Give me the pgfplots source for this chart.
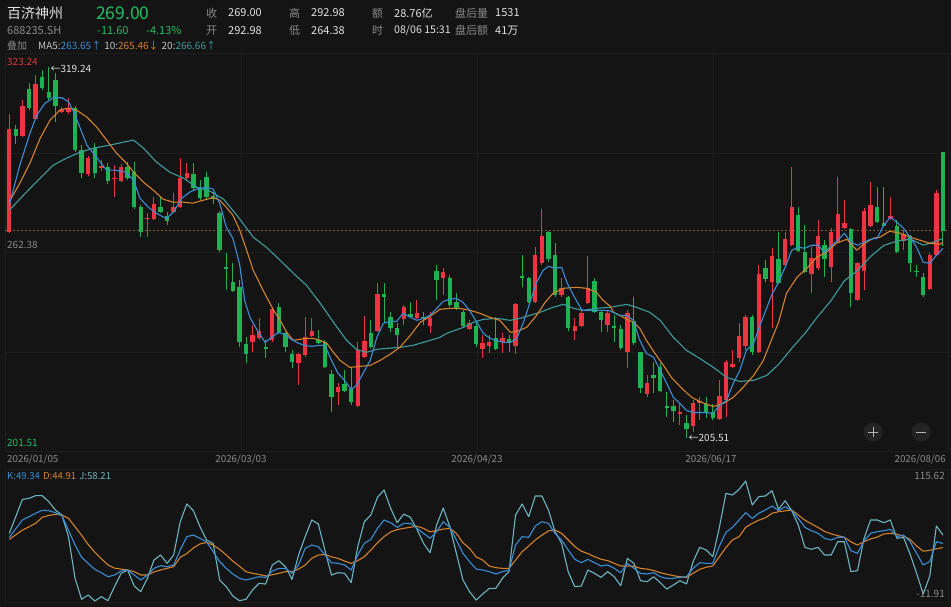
\documentclass[border=0pt]{standalone}
\usepackage{pgfplots}
\pgfplotsset{compat=1.18}
\usepackage{pgfplotstable}
\usepackage{fontspec}
\setmainfont{Noto Sans CJK SC}
\definecolor{bg}{HTML}{141414}
\definecolor{cgrid}{HTML}{1E1E1E}
\definecolor{cred}{HTML}{EE3440}
\definecolor{cgreen}{HTML}{1FB253}
\definecolor{cma5}{HTML}{3A8ED6}
\definecolor{cma10}{HTML}{D5822C}
\definecolor{cma20}{HTML}{3F9C9C}
\definecolor{cj}{HTML}{6DB5C2}
\definecolor{ctext}{HTML}{E2E2E2}
\definecolor{cgrey}{HTML}{8A8A8A}
\definecolor{clight}{HTML}{C4C4C4}
\definecolor{cgreentxt}{HTML}{22C063}
\definecolor{credtxt}{HTML}{D93840}
\definecolor{cdash}{HTML}{8C5A2C}
\definecolor{cbtn}{HTML}{232323}
\definecolor{cbtns}{HTML}{B4B4B4}
\newcommand{\fs}[1]{\fontsize{#1}{#1}\selectfont}

\pgfplotstableread{
x o h l c
0 268.58 304.78 268.27 300.12
2 297.98 309.00 297.67 307.16
4 303.18 316.66 302.87 313.90
8 305.32 306.85 305.02 306.24
9 305.32 309.61 304.71 306.55
12 286.33 291.85 285.72 291.24
14 288.18 290.62 287.25 288.79
16 284.81 289.10 279.29 285.11
17 284.19 289.40 283.89 288.48
21 272.56 274.39 267.05 272.87
22 272.56 279.29 272.25 277.15
25 274.70 280.52 274.39 276.23
26 276.23 291.24 275.93 285.11
27 285.11 289.71 284.50 286.64
37 234.89 240.10 231.83 237.04
38 236.12 242.24 235.50 238.26
40 235.50 245.60 234.89 244.99
44 228.46 231.52 221.78 231.22
45 230.91 242.54 230.30 236.42
46 236.73 242.24 236.42 238.26
50 219.58 222.33 215.60 221.11
53 215.29 234.89 214.98 232.44
54 230.30 242.85 230.00 235.20
56 238.26 252.96 237.95 249.59
60 241.93 246.22 240.10 245.60
62 242.24 247.75 241.93 243.77
64 239.79 244.08 237.64 242.24
66 254.49 257.55 249.29 256.33
70 238.87 241.63 238.56 240.71
72 232.75 237.04 230.00 234.58
73 233.66 237.04 231.52 234.89
75 234.89 237.64 231.52 236.12
77 233.66 246.83 231.22 246.52
80 247.14 263.98 246.83 261.53
81 259.08 275.62 258.47 267.35
84 249.29 254.49 248.67 251.43
86 238.26 242.24 235.50 239.79
87 239.79 244.69 239.49 243.77
88 246.83 261.23 246.52 251.43
91 240.10 244.69 237.95 243.77
94 231.83 244.69 226.93 243.77
97 218.96 224.78 218.05 222.33
102 212.84 215.98 209.47 213.45
104 209.17 217.13 207.33 216.21
105 216.21 218.05 211.00 216.82
108 211.31 223.25 211.00 218.35
109 217.13 229.38 211.92 228.76
110 227.23 232.44 226.93 228.16
111 230.00 240.71 228.76 236.73
112 233.66 243.16 232.44 242.54
114 231.83 258.47 231.52 255.71
116 253.26 263.68 239.18 261.23
118 258.47 268.58 258.16 266.43
119 264.60 288.48 264.29 276.23
122 255.71 263.98 249.90 260.62
123 257.55 272.25 256.94 267.35
125 257.86 269.80 253.26 268.58
126 265.51 285.42 265.21 274.09
127 269.80 278.37 269.50 271.33
129 247.75 259.39 247.44 259.08
130 256.63 275.93 250.81 275.01
131 270.41 283.89 270.11 276.84
134 272.87 279.29 272.25 273.48
136 265.82 269.19 263.06 267.96
140 251.12 262.14 250.81 261.53
141 261.53 281.50 261.20 280.60
}\upc

\pgfplotstableread{
x o h l c
1 300.12 301.35 295.61 297.98
3 312.37 314.20 305.94 306.55
5 316.04 318.19 312.06 312.67
6 311.45 319.24 309.00 309.61
7 315.12 317.27 302.26 307.16
10 306.55 307.16 293.07 293.69
11 293.69 295.22 285.11 286.64
13 294.30 295.91 285.11 286.64
15 288.48 289.71 283.27 284.19
18 288.48 290.01 284.50 285.11
19 286.95 290.01 275.62 276.23
20 276.23 276.84 267.05 268.58
23 276.23 279.29 274.39 274.70
24 273.48 274.70 270.72 271.94
28 286.33 289.71 281.44 282.05
29 282.05 284.50 278.37 278.99
30 285.42 286.95 278.68 279.29
31 279.60 280.83 277.15 278.68
32 274.39 275.01 262.45 263.06
33 257.86 262.14 250.81 257.25
34 253.26 259.08 250.20 250.51
35 251.73 253.88 233.36 234.89
36 234.28 236.42 228.46 231.22
39 233.36 235.50 230.00 232.75
41 245.60 246.83 237.34 237.95
42 237.64 237.95 231.83 233.36
43 231.22 232.44 226.93 228.76
47 235.50 238.56 234.28 234.58
48 234.89 235.50 226.93 227.23
49 225.09 226.31 213.45 218.05
51 222.03 226.31 219.58 219.88
52 220.50 226.93 215.60 216.52
55 237.64 241.63 233.05 233.36
57 249.59 252.96 240.71 248.67
58 242.54 244.08 237.95 239.18
59 239.18 240.71 233.36 237.04
61 243.46 247.14 242.24 242.54
63 242.54 244.08 240.10 241.93
65 256.63 258.47 247.75 253.88
67 254.49 255.41 245.60 246.22
68 247.14 249.90 244.69 245.30
69 244.08 244.69 239.49 239.79
71 239.79 241.32 233.36 234.28
74 236.12 242.54 232.44 232.75
76 235.81 237.04 231.83 234.58
78 255.10 261.53 251.73 254.49
79 254.49 254.80 246.83 247.14
82 268.58 268.88 259.39 260.31
83 261.53 265.22 248.67 249.29
85 248.67 248.98 238.26 239.18
89 253.57 254.49 243.77 244.08
90 244.08 244.69 237.95 241.63
92 239.79 243.16 234.89 239.18
93 238.87 240.10 232.44 233.05
95 241.32 248.67 233.97 234.58
96 231.83 231.83 219.27 220.80
98 224.78 228.76 219.27 223.86
99 227.23 228.46 219.58 219.88
100 215.29 219.58 211.92 214.68
101 215.29 217.13 210.39 213.76
103 210.08 212.53 205.51 208.25
106 215.90 218.05 211.62 213.45
107 213.45 215.98 211.00 211.62
113 242.54 243.16 230.91 231.83
115 257.55 260.00 253.26 254.18
117 260.31 268.58 252.65 252.96
120 273.78 276.23 262.45 262.76
121 262.45 270.72 256.02 256.33
124 264.60 266.13 254.80 260.31
128 269.50 269.80 245.60 249.90
132 276.23 282.36 271.33 271.64
133 271.33 282.36 270.11 270.41
135 270.41 272.25 262.14 262.45
137 267.35 267.66 256.33 259.08
138 256.63 258.47 254.80 256.33
139 254.80 256.02 248.67 249.29
142 292.98 292.98 264.38 269.00
}\downc

\begin{document}
\begin{tikzpicture}[x=1pt,y=1pt]
\useasboundingbox (0,0) rectangle (951,-607);
\fill[bg] (0,0) rectangle (951,-607);

% ---------- main candlestick panel ----------
\begin{axis}[at={(5pt,-451.5pt)}, anchor=south west, scale only axis,
  width=943pt, height=398pt,
  xmin=-0.654, xmax=142.77, ymin=201.51, ymax=323.24,
  axis line style={draw=cgrid, line width=0.8pt},
  xtick={35.24,71.13,107.02}, ytick={231.83,262.38,292.77},
  xticklabels={}, yticklabels={}, major tick length=0pt,
  grid=major, grid style={draw=cgrid, line width=0.8pt},
  clip=true]
\addplot[cdash, line width=0.8pt, dash pattern=on 2pt off 2pt, forget plot] coordinates {(-0.654,269) (142.77,269)};
% wicks
\addplot[draw=none, mark=none, forget plot, error bars/.cd, y dir=plus, y explicit, error mark=none,
  error bar style={draw=cred, line width=0.9pt, solid}]
  table[x=x, y=l, y error plus expr=\thisrow{h}-\thisrow{l}] {\upc};
\addplot[draw=none, mark=none, forget plot, error bars/.cd, y dir=plus, y explicit, error mark=none,
  error bar style={draw=cgreen, line width=0.9pt, solid}]
  table[x=x, y=l, y error plus expr=\thisrow{h}-\thisrow{l}] {\downc};
% bodies
\addplot[draw=none, mark=none, forget plot, error bars/.cd, y dir=plus, y explicit, error mark=none,
  error bar style={draw=cred, line width=4.4pt, solid}]
  table[x=x, y=o, y error plus expr=\thisrow{c}-\thisrow{o}] {\upc};
\addplot[draw=none, mark=none, forget plot, error bars/.cd, y dir=plus, y explicit, error mark=none,
  error bar style={draw=cgreen, line width=4.4pt, solid}]
  table[x=x, y=c, y error plus expr=\thisrow{o}-\thisrow{c}] {\downc};
% MA20
\addplot[cma20, line width=1.1pt, line join=round, mark=none] coordinates {
(0,275.31)(2.6,280.83)(4.7,285.11)(6.7,289.10)(8.7,291.24)(10.8,293.07)(12.8,294.30)(15.3,295.22)(17.4,296.14)(18.9,296.75)
(20.4,294.30)(22.4,290.01)(24.4,286.95)(26.5,285.11)(28.5,282.36)(30.5,281.13)(32.6,278.68)(34.6,273.78)(37.1,267.05)(39.1,263.98)
(41.2,260.00)(43.2,256.02)(45.2,252.35)(47.3,246.83)(49.3,241.02)(51.3,235.50)(52.8,232.75)(54.3,231.83)(55.9,232.75)(57.4,233.05)
(59.4,233.36)(61.4,233.97)(63.5,235.20)(65.5,236.42)(66.5,237.64)(69.1,239.49)(70.6,241.02)(72.1,241.93)(74.1,242.24)(76.2,241.63)
(77.7,242.24)(79.2,243.16)(80.7,244.08)(82.7,245.61)(84.3,246.52)(85.8,245.30)(87.3,244.69)(89.3,245.30)(91.4,245.61)(93.9,246.52)
(95.4,245.61)(97.4,244.08)(99,241.63)(101,236.42)(103,232.44)(105,229.99)(107.1,227.23)(109.1,224.17)(111.1,222.95)(113.2,223.25)
(115.2,224.78)(117,228.15)(119,233.07)(121,237.60)(123,242.91)(125,247.71)(127,253.72)(129,256.82)(131,261.17)(133,264.55)
(135,265.85)(137,266.49)(139,264.64)(140.5,265.50)(142,266.66)};
% MA10
\addplot[cma10, line width=1.1pt, line join=round, mark=none] coordinates {
(0,277.85)(1.6,283.58)(3.2,290.01)(4.7,297.36)(6.2,302.87)(7.7,305.94)(9,306.55)(10.2,305.94)(11.8,303.79)(13.3,300.73)
(14.8,296.75)(16.3,292.77)(17.8,289.71)(18.9,286.95)(20.4,283.89)(21.9,281.44)(23.4,278.68)(24.9,277.76)(26.5,277.76)(27.9,277.46)
(29.5,278.37)(31,279.14)(32,278.37)(33,276.23)(34,273.78)(35,269.50)(36.1,263.06)(37.1,256.94)(38.6,250.81)(40.2,244.69)
(41.2,241.63)(42.2,237.95)(43.2,235.50)(44.2,235.81)(45.2,236.12)(46.2,236.12)(47.3,235.50)(48.3,234.58)(49.3,231.83)(50.3,229.38)
(51.8,227.23)(53.3,227.54)(54.9,227.85)(56.4,229.38)(57.9,231.22)(59.4,233.36)(61,237.04)(62.5,241.02)(64,242.85)(65.5,244.99)
(67,245.30)(68.5,245.30)(70.1,244.69)(71.6,243.77)(73.1,242.54)(74.6,241.63)(76.2,237.95)(77.2,238.26)(78.7,239.49)(80.2,243.16)
(81.5,247.14)(82.7,249.90)(84.3,251.43)(86.3,251.73)(87.8,251.43)(89.3,250.20)(90.3,247.75)(91.4,245.91)(91.9,244.08)(93.4,242.54)
(94.9,241.02)(95.9,239.18)(96.9,235.50)(98.2,231.52)(99.5,227.85)(100.7,224.17)(102.3,220.80)(103.8,218.05)(105.3,216.52)(107.1,215.29)
(108.6,216.21)(110.1,218.05)(111.6,221.11)(113.2,224.78)(114.7,229.38)(115.4,233.05)(117,241.05)(118.2,249.90)(119.8,254.80)(121.3,257.55)
(122.8,260.92)(124.3,262.45)(125.8,265.21)(127.4,266.43)(128.9,263.06)(130.1,265.21)(131.4,266.74)(132.4,267.05)(133.9,268.88)(135.5,268.27)
(137,267.05)(138.5,266.13)(140,265.21)(141.6,264.90)(142,265.46)};
% MA5
\addplot[cma5, line width=1.1pt, line join=round, mark=none] coordinates {
(0,276.84)(1.6,289.09)(3.2,299.20)(4.2,304.41)(5.4,307.99)(6.7,309.70)(8,309.70)(9,308.48)(9.8,305.42)(10.8,300.33)
(11.8,295.22)(13,292.16)(14.8,287.56)(16,287.56)(17.6,287.04)(18.9,284.50)(19.9,278.90)(21.1,276.32)(22.4,274.30)(23.9,272.77)
(25,274.79)(26.2,278.90)(27.5,280.92)(29,282.14)(30.2,282.20)(31,281.75)(32,277.46)(33,270.11)(34,266.74)(35,259.08)
(35.8,247.75)(36.6,242.54)(37.9,237.95)(38.9,234.89)(39.9,236.42)(40.9,237.95)(41.9,237.34)(42.9,235.81)(44,234.58)(45,233.97)
(46,233.66)(47,233.97)(48,233.97)(49,229.38)(50,225.39)(51,223.25)(52,220.50)(52.8,221.72)(53.8,225.39)(54.9,229.38)
(55.9,236.42)(56.9,240.71)(57.9,241.32)(58.9,241.32)(59.9,243.77)(61,242.54)(62,241.63)(63,242.24)(64,243.16)(65,245.30)
(66,247.44)(67,248.06)(68,248.36)(69,247.14)(70,244.69)(71.1,241.02)(72.1,237.64)(73.1,236.12)(74.1,235.50)(75.1,234.89)
(76.2,234.89)(77.2,236.12)(78.2,241.02)(79.2,247.14)(80.2,253.26)(81.2,256.94)(82,258.16)(83,257.55)(84,257.86)(84.8,253.26)
(85.8,249.29)(87.1,244.69)(88.1,244.69)(89.1,244.69)(90.1,244.69)(91.1,244.69)(92.9,243.16)(93.9,243.16)(94.9,241.63)(95.9,235.50)
(96.9,231.52)(98,230.30)(99,226.31)(100,222.33)(101,218.05)(102,216.21)(103,214.06)(104,213.45)(105,213.45)(106,213.45)
(107,213.15)(108,215.60)(109.1,217.13)(110.1,222.33)(111.1,226.30)(112.1,232.44)(113.2,234.58)(114,239.18)(115,244.39)(116,249.59)
(117,253.26)(118,257.86)(119,263.06)(120,263.98)(121,263.68)(122,264.60)(123,264.60)(124,262.45)(125,264.29)(126,266.13)
(127,268.27)(128,265.51)(129,264.60)(130,265.51)(131,266.43)(132,266.74)(133,270.72)(134,273.17)(135,271.64)(136,269.80)
(137,267.05)(138,263.98)(139,259.39)(140,259.08)(141,261.53)(142,263.65)};
\node[anchor=west, inner sep=0pt, text=ctext, font=\fs{10}] at (axis cs:6.25,319.24) [yshift=-2.4pt] {←319.24};
\node[anchor=west, inner sep=0pt, text=ctext, font=\fs{10}] at (axis cs:103.3,205.51) {←205.51};
\end{axis}

% ---------- KDJ panel ----------
\begin{axis}[at={(5pt,-602pt)}, anchor=south west, scale only axis,
  width=943pt, height=132.5pt,
  xmin=-0.654, xmax=142.77, ymin=-12.97, ymax=127.84,
  axis line style={draw=cgrid, line width=0.8pt},
  xtick=\empty, ytick=\empty, clip=true]
\addplot[cj, line width=1.1pt, line join=round, mark=none] coordinates {
(0,60.0)(2,96.1)(3,97.2)(4,100.0)(5,100.0)(6,93.7)(7,84.8)(8,79.5)(9,56.5)(10,12.2)(11,-10.1)(12,-5.5)(13,-11.9)(14,-7.3)(15,-11.6)
(16,3.3)(17,17.5)(18,21.0)(19,4.0)(20,-2.0)(21,12.2)(22,31.6)(23,37.0)(24,28.1)(25,37.0)(26,72.4)(27,91.2)(28,84.1)(29,67.1)(30,52.9)
(31,49.4)(32,10.4)(33,3.3)(34,-6.6)(35,-11.6)(36,-10.1)(37,-0.2)(38,6.9)(39,6.1)(40,26.4)(41,30.9)(42,24.6)(43,11.1)(44,37.0)(45,56.5)
(46,74.2)(47,69.9)(48,42.3)(49,15.7)(50,18.2)(51,17.5)(52,7.6)(53,45.8)(54,72.4)(55,79.5)(56,98.3)(57,106.1)(58,86.6)(59,71.3)(60,80.5)
(61,77.0)(62,64.3)(63,49.4)(64,39.4)(65,68.9)(66,86.9)(67,67.1)(68,38.7)(69,10.4)(70,-2.0)(71,-10.9)(72,-4.5)(73,1.5)(74,1.5)(75,12.2)
(76,19.3)(77,79.5)(78,91.2)(79,77.7)(80,99.7)(81,99.7)(82,84.8)(83,61.8)(84,49.4)(85,19.3)(86,3.3)(87,4.0)(88,21.0)(89,17.5)(90,13.2)
(91,19.3)(92,13.9)(93,4.4)(94,33.4)(95,28.1)(96,9.7)(97,8.6)(98,13.9)(99,7.6)(100,0.8)(101,5.1)(102,9.7)(103,6.2)(104,29.9)(105,45.1)
(106,42.3)(107,35.2)(108,66.4)(109,102.5)(110,100.7)(111,106.8)(112,115.62)(113,90.1)(114,99.0)(115,99.7)(116,105.3)(117,85.5)(118,94.7)(119,84.1)(120,68.9)
(121,45.1)(122,43.0)(123,45.1)(124,37.0)(125,37.0)(126,51.1)(127,51.1)(128,19.3)(129,20.3)(130,54.7)(131,74.2)(132,74.2)(133,71.3)(134,74.2)(135,54.7)
(136,55.7)(137,38.0)(138,17.5)(139,-4.5)(140,14.7)(141,67.8)(142,58.21)};
\addplot[cma10, line width=1.1pt, line join=round, mark=none] coordinates {
(0,53.6)(2,63.5)(3,67.0)(4,70.6)(5,77.0)(6,79.0)(7,80.2)(8,79.5)(9,76.0)(10,67.0)(11,58.0)(12,48.0)(13,40.0)(14,33.0)(15,26.5)
(16,23.0)(17,22.0)(18,21.0)(19,19.3)(20,15.7)(21,15.7)(22,19.0)(23,21.0)(24,22.8)(25,24.6)(26,34.5)(27,38.5)(28,44.5)(29,48.7)(30,50.4)
(31,47.5)(32,43.0)(33,37.0)(34,30.5)(35,25.0)(36,19.3)(37,17.5)(38,16.3)(39,14.7)(40,16.0)(41,17.5)(42,19.3)(43,19.3)(44,22.0)(45,26.3)
(46,33.4)(47,37.0)(48,37.5)(49,35.0)(50,33.4)(51,30.5)(52,28.1)(53,31.0)(54,35.2)(55,42.3)(56,50.0)(57,56.5)(58,61.5)(59,64.0)(60,65.3)
(61,66.5)(62,67.5)(63,65.3)(64,61.5)(65,63.0)(66,64.5)(67,65.3)(68,60.0)(69,50.0)(70,44.0)(71,35.0)(72,31.6)(73,25.3)(74,23.5)(75,22.8)
(76,22.8)(77,31.6)(78,40.5)(79,46.5)(80,53.0)(81,58.0)(82,62.6)(83,63.5)(84,60.0)(85,53.0)(86,46.0)(87,41.0)(88,38.5)(89,35.2)(90,32.5)
(91,31.0)(92,28.1)(93,25.3)(94,25.3)(95,25.0)(96,22.8)(97,22.0)(98,20.5)(99,18.2)(100,16.5)(101,15.0)(102,13.9)(103,13.2)(104,17.5)(105,21.7)
(106,24.0)(107,25.3)(108,35.2)(109,45.0)(110,53.0)(111,56.5)(112,66.4)(113,70.6)(114,74.0)(115,76.5)(116,81.3)(117,83.0)(118,84.0)(119,84.8)(120,79.5)
(121,74.0)(122,70.0)(123,66.4)(124,62.0)(125,59.5)(126,57.5)(127,55.8)(128,51.1)(129,47.6)(130,51.1)(131,54.0)(132,56.0)(133,59.3)(134,60.0)(135,59.0)
(136,57.0)(137,53.5)(138,46.5)(139,41.0)(140,42.0)(141,43.5)(142,44.91)};
\addplot[cma5, line width=1.1pt, line join=round, mark=none] coordinates {
(0,55.8)(2,74.2)(3,77.7)(4,81.3)(5,84.4)(6,84.1)(7,82.0)(8,78.8)(9,63.5)(10,47.6)(11,34.5)(12,28.1)(13,21.7)(14,18.2)(15,13.9)
(16,15.7)(17,19.9)(18,21.0)(19,15.7)(20,10.4)(21,15.7)(22,22.8)(23,25.6)(24,24.6)(25,26.4)(26,42.3)(27,56.5)(28,58.2)(29,54.7)(30,51.1)
(31,40.5)(32,29.9)(33,22.8)(34,16.8)(35,12.2)(36,10.4)(37,12.2)(38,13.9)(39,13.2)(40,19.9)(41,22.8)(42,22.8)(43,17.5)(44,26.4)(45,44.1)
(46,47.6)(47,45.8)(48,37.0)(49,28.8)(50,28.1)(51,26.4)(52,21.0)(53,37.0)(54,49.4)(55,53.6)(56,65.3)(57,74.2)(58,71.3)(59,66.4)(60,70.6)
(61,70.6)(62,65.3)(63,60.0)(64,54.7)(65,61.8)(66,72.4)(67,66.4)(68,52.9)(69,38.7)(70,29.9)(71,22.0)(72,21.0)(73,19.3)(74,16.8)(75,19.3)
(76,21.0)(77,47.6)(78,56.5)(79,55.7)(80,67.8)(81,72.4)(82,70.6)(83,60.0)(84,52.9)(85,42.3)(86,32.4)(87,28.8)(88,32.4)(89,28.8)(90,25.3)
(91,26.4)(92,22.8)(93,18.2)(94,28.1)(95,22.8)(96,17.5)(97,16.8)(98,18.2)(99,13.9)(100,12.2)(101,12.2)(102,13.2)(103,13.9)(104,22.8)(105,28.8)
(106,28.1)(107,28.1)(108,46.5)(109,61.1)(110,66.4)(111,74.2)(112,82.0)(113,75.9)(114,81.3)(115,84.8)(116,89.0)(117,84.1)(118,88.3)(119,84.1)(120,75.9)
(121,66.4)(122,62.8)(123,60.0)(124,54.7)(125,52.9)(126,55.8)(127,55.8)(128,41.6)(129,38.7)(130,51.9)(131,60.0)(132,61.8)(133,62.8)(134,64.3)(135,56.5)
(136,58.2)(137,51.1)(138,38.7)(139,26.4)(140,29.9)(141,51.1)(142,49.34)};
\end{axis}

% ---------- header ----------
\node[anchor=west, inner sep=0pt, text=ctext, font=\fs{14}] at (7,-13) {百济神州};
\node[anchor=west, inner sep=0pt, text=cgreentxt, font=\fs{17.5}] at (96,-13) {269.00};
\node[anchor=west, inner sep=0pt, text=cgrey, font=\fs{11}] at (7,-30.5) {688235.SH};
\node[anchor=west, inner sep=0pt, text=cgreentxt, font=\fs{11}] at (97,-30.5) {-11.60};
\node[anchor=west, inner sep=0pt, text=cgreentxt, font=\fs{11}] at (146,-30.5) {-4.13\%};
\foreach \lx/\ly/\lt in {206/13/收, 289/13/高, 372/13/额, 455/13/盘后量, 206/30.5/开, 289/30.5/低, 372/30.5/时, 455/30.5/盘后额}
  \node[anchor=west, inner sep=0pt, text=cgrey, font=\fs{11}] at (\lx,-\ly) {\lt};
\foreach \lx/\ly/\lt in {228/13/{269.00}, 311/13/{292.98}, 394/13/{28.76亿}, 495/13/{1531}, 228/30.5/{292.98}, 311/30.5/{264.38}, 495/30.5/{41万}}
  \node[anchor=west, inner sep=0pt, text=ctext, font=\fs{11}] at (\lx,-\ly) {\lt};
\node[anchor=west, inner sep=0pt, text=ctext, font=\fs{10.6}] at (394,-30.5) {08/06 15:31};
\node[anchor=west, inner sep=0pt, text=cgrey, font=\fs{10}] at (7,-46) {叠加};
\node[anchor=west, inner sep=0pt, font=\fs{10}] at (38,-46) {\color{clight}MA5:\color{cma5}263.65↑\hspace{3pt}\color{clight}10:\color{cma10}265.46↓\hspace{3pt}\color{clight}20:\color{cma20}266.66↑};

% price labels
\node[anchor=west, inner sep=0pt, text=credtxt, font=\fs{10}] at (7,-62) {323.24};
\node[anchor=west, inner sep=0pt, text=cgrey, font=\fs{10}] at (7,-245) {262.38};
\node[anchor=west, inner sep=0pt, text=cgreentxt, font=\fs{10}] at (7,-443) {201.51};

% date labels
\node[anchor=west, inner sep=0pt, text=cgrey, font=\fs{9.8}] at (7,-459) {2026/01/05};
\node[inner sep=0pt, text=cgrey, font=\fs{9.8}] at (241,-459) {2026/03/03};
\node[inner sep=0pt, text=cgrey, font=\fs{9.8}] at (477,-459) {2026/04/23};
\node[inner sep=0pt, text=cgrey, font=\fs{9.8}] at (711,-459) {2026/06/17};
\node[anchor=east, inner sep=0pt, text=cgrey, font=\fs{9.8}] at (946,-459) {2026/08/06};

% KDJ labels
\node[anchor=west, inner sep=0pt, font=\fs{9.6}] at (7,-476) {\color{cma5}K:49.34\hspace{3pt}\color{cma10}D:44.91\hspace{3pt}\color{cj}J:58.21};
\node[anchor=east, inner sep=0pt, text=cgrey, font=\fs{10}] at (945,-476) {115.62};
\node[anchor=east, inner sep=0pt, text=cgrey, font=\fs{10}] at (945,-594) {-11.91};

% zoom buttons
\fill[cbtn] (873,-432) circle (9.5);
\fill[cbtn] (921,-432) circle (9.5);
\draw[cbtns, line width=1pt] (868,-432) -- (878,-432) (873,-427) -- (873,-437);
\draw[cbtns, line width=1pt] (916,-432) -- (926,-432);
\end{tikzpicture}
\end{document}
